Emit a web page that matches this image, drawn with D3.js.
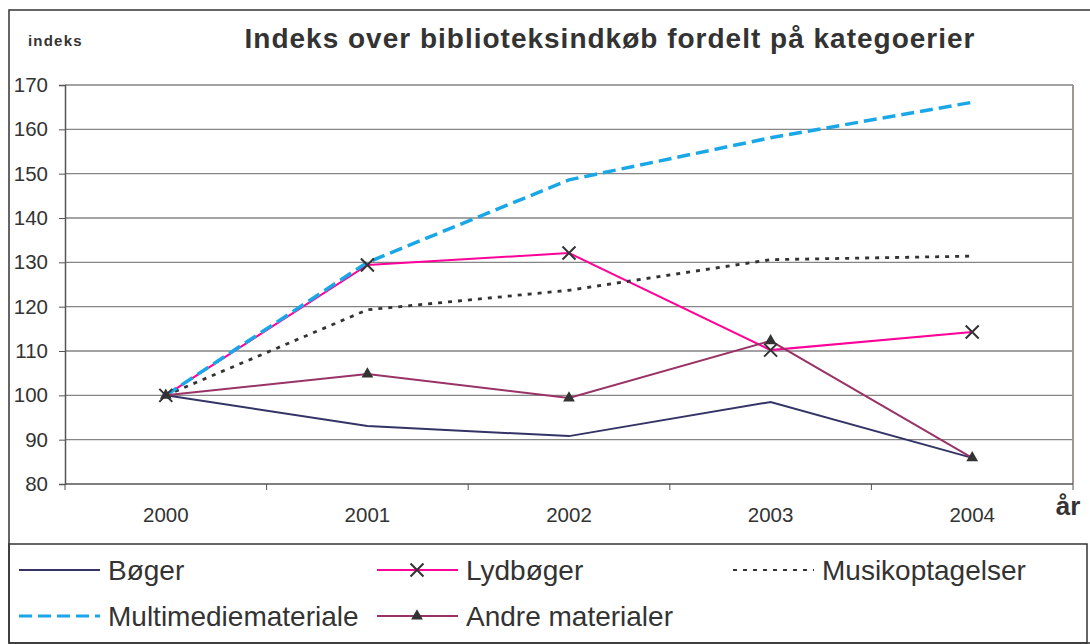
<!DOCTYPE html>
<html>
<head>
<meta charset="utf-8">
<script src="https://cdn.jsdelivr.net/npm/d3@7"></script>
<style>
  body { margin: 0; background: #fff; }
  svg { display: block; font-family: "Liberation Sans", Arial, sans-serif; }
</style>
</head>
<body>
<div id="chart"></div>
<script>
// data
const years = ["2000", "2001", "2002", "2003", "2004"];
const boeger = [100, 93.1, 90.8, 98.5, 85.9];
const lydboeger = [100, 129.4, 132.1, 110.2, 114.3];
const musik = [100, 119.3, 123.7, 130.6, 131.4];
const multimedie = [100, 130.0, 148.6, 158.1, 166.1];
const andre = [100, 104.8, 99.4, 112.3, 85.9];
const yTicks = [80, 90, 100, 110, 120, 130, 140, 150, 160, 170];

const series = [
  { name: "Bøger", values: boeger, color: "#333366", width: 2, dash: null, marker: null },
  { name: "Lydbøger", values: lydboeger, color: "#ff0099", width: 2, dash: null, marker: "x" },
  { name: "Musikoptagelser", values: musik, color: "#333333", width: 2.8, dash: "4,6", marker: null },
  { name: "Multimediemateriale", values: multimedie, color: "#1aa7e8", width: 3.5, dash: "13,6", marker: null },
  { name: "Andre materialer", values: andre, color: "#993366", width: 2, dash: null, marker: "tri" }
];

const W = 1090, H = 644;
const plot = { left: 65, right: 1073, top: 85, bottom: 484 };

const svg = d3.select("#chart").append("svg")
  .attr("width", W)
  .attr("height", H);

// outer frame
svg.append("rect")
  .attr("x", 9).attr("y", 10)
  .attr("width", 1100).attr("height", 633)
  .attr("fill", "none")
  .attr("stroke", "#333")
  .attr("stroke-width", 1.5);

const x = d3.scalePoint().domain(years).range([plot.left, plot.right]).padding(0.5);
const xBand = d3.scaleBand().domain(years).range([plot.left, plot.right]);
const y = d3.scaleLinear().domain([80, 170]).range([plot.bottom, plot.top]);

// gridlines
svg.append("g")
  .selectAll("line")
  .data(yTicks.slice(1))
  .enter()
  .append("line")
  .attr("x1", plot.left).attr("x2", plot.right)
  .attr("y1", d => y(d)).attr("y2", d => y(d))
  .attr("stroke", "#858585")
  .attr("stroke-width", 1.3);

// right border of plot
svg.append("line")
  .attr("x1", plot.right).attr("x2", plot.right)
  .attr("y1", plot.top).attr("y2", plot.bottom)
  .attr("stroke", "#a09890")
  .attr("stroke-width", 2);

// y axis
const yAxis = svg.append("g")
  .attr("transform", `translate(${plot.left},0)`)
  .call(d3.axisLeft(y).tickValues(yTicks).tickSize(6).tickPadding(11));
yAxis.select(".domain").attr("stroke", "#555").attr("stroke-width", 1.5);
yAxis.selectAll(".tick line").attr("stroke", "#555");
yAxis.selectAll("text")
  .attr("font-size", 20.5)
  .attr("fill", "#333")
  .attr("font-family", "Liberation Sans, Arial, sans-serif");

// x axis: baseline + ticks at band edges
const xg = svg.append("g");
xg.append("line")
  .attr("x1", plot.left).attr("x2", plot.right)
  .attr("y1", plot.bottom).attr("y2", plot.bottom)
  .attr("stroke", "#555").attr("stroke-width", 1.5);
const edges = years.map(d => xBand(d)).concat([plot.right]);
xg.selectAll("line.tk")
  .data(edges)
  .enter()
  .append("line")
  .attr("class", "tk")
  .attr("x1", d => d).attr("x2", d => d)
  .attr("y1", plot.bottom).attr("y2", plot.bottom + 6)
  .attr("stroke", "#555");
xg.selectAll("text")
  .data(years)
  .enter()
  .append("text")
  .attr("x", d => x(d))
  .attr("y", 522)
  .attr("text-anchor", "middle")
  .attr("font-size", 20.5)
  .attr("fill", "#333")
  .text(d => d);

// lines
const line = d3.line()
  .x((d, i) => x(years[i]))
  .y(d => y(d));

series.forEach(s => {
  svg.append("path")
    .datum(s.values)
    .attr("d", line)
    .attr("fill", "none")
    .attr("stroke", s.color)
    .attr("stroke-width", s.width)
    .attr("stroke-dasharray", s.dash);
});

function drawMarker(g, type, cx, cy) {
  if (type === "x") {
    const r = 6.5;
    g.append("path")
      .attr("d", `M${cx - r},${cy - r}L${cx + r},${cy + r}M${cx - r},${cy + r}L${cx + r},${cy - r}`)
      .attr("stroke", "#333")
      .attr("stroke-width", 2)
      .attr("fill", "none");
  } else if (type === "tri") {
    g.append("path")
      .attr("d", d3.symbol().type(d3.symbolTriangle).size(60)())
      .attr("transform", `translate(${cx},${cy})`)
      .attr("fill", "#333");
  }
}

series.filter(s => s.marker).forEach(s => {
  const g = svg.append("g");
  s.values.forEach((v, i) => drawMarker(g, s.marker, x(years[i]), y(v)));
});

// titles
svg.append("text")
  .attr("x", 610)
  .attr("y", 48)
  .attr("text-anchor", "middle")
  .attr("font-size", 28)
  .attr("font-weight", "bold")
  .attr("letter-spacing", 1)
  .attr("fill", "#333")
  .text("Indeks over biblioteksindkøb fordelt på kategoerier");

svg.append("text")
  .attr("x", 28)
  .attr("y", 46)
  .attr("font-size", 15)
  .attr("font-weight", "bold")
  .attr("letter-spacing", 1.2)
  .attr("fill", "#333")
  .text("indeks");

svg.append("text")
  .attr("x", 1068)
  .attr("y", 515)
  .attr("text-anchor", "middle")
  .attr("font-size", 26)
  .attr("font-weight", "bold")
  .attr("fill", "#333")
  .text("år");

// legend
svg.append("rect")
  .attr("x", 9).attr("y", 544)
  .attr("width", 1078).attr("height", 99)
  .attr("fill", "none")
  .attr("stroke", "#333")
  .attr("stroke-width", 1.5);

const legendPos = [
  { x: 19, y: 570 },
  { x: 377, y: 570 },
  { x: 733, y: 570 },
  { x: 19, y: 616 },
  { x: 377, y: 616 }
];

series.forEach((s, i) => {
  const p = legendPos[i];
  const g = svg.append("g");
  g.append("line")
    .attr("x1", p.x).attr("x2", p.x + 81)
    .attr("y1", p.y).attr("y2", p.y)
    .attr("stroke", s.color)
    .attr("stroke-width", s.width === 3.5 ? 3 : 2)
    .attr("stroke-dasharray", s.dash);
  if (s.marker) drawMarker(g, s.marker, p.x + 40, p.y);
  g.append("text")
    .attr("x", p.x + 89)
    .attr("y", p.y + 10)
    .attr("font-size", 28)
    .attr("fill", "#333")
    .text(s.name);
});
</script>
</body>
</html>
